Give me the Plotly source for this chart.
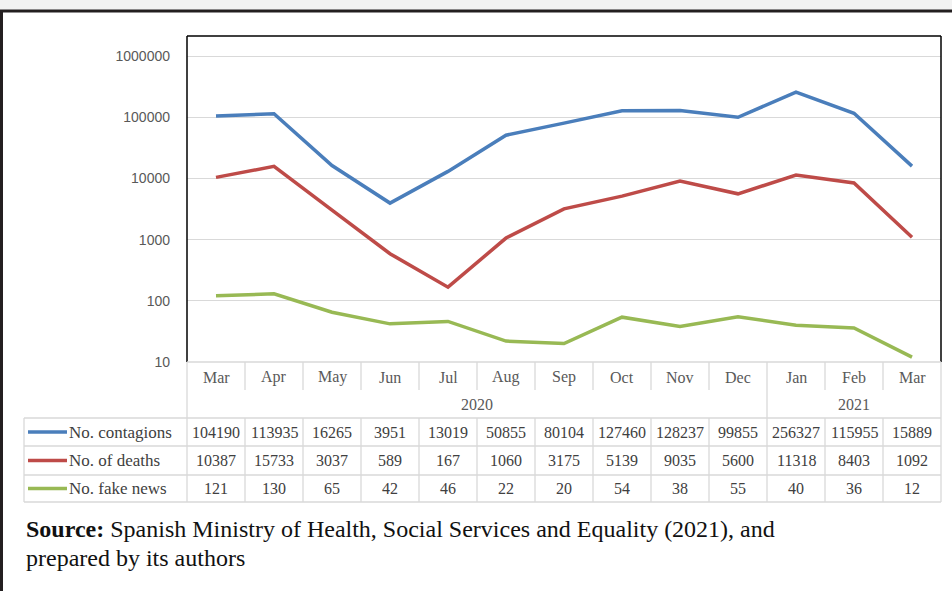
import plotly.graph_objects as go

months = ["Mar", "Apr", "May", "Jun", "Jul", "Aug", "Sep", "Oct", "Nov", "Dec", "Jan", "Feb", "Mar"]
years = ["2020", "2021"]
year_spans = [(0, 9), (10, 12)]
contagions = [104190, 113935, 16265, 3951, 13019, 50855, 80104, 127460, 128237, 99855, 256327, 115955, 15889]
deaths = [10387, 15733, 3037, 589, 167, 1060, 3175, 5139, 9035, 5600, 11318, 8403, 1092]
fake_news = [121, 130, 65, 42, 46, 22, 20, 54, 38, 55, 40, 36, 12]
series_names = ["No. contagions", "No. of deaths", "No. fake news"]
series_values = [contagions, deaths, fake_news]
series_colors = ["#4A7EBB", "#BE4B48", "#98B954"]
y_ticks = [10, 100, 1000, 10000, 100000, 1000000]

W, H = 952, 591
L, R, T, B = 187, 941, 36, 362


def px(x):
    return (x - L) / (R - L)


def py(y):
    return (B - y) / (B - T)


xs = list(range(len(months)))
fig = go.Figure()
for name, vals, col in zip(series_names, series_values, series_colors):
    fig.add_trace(go.Scatter(x=xs, y=vals, mode="lines", name=name,
                             line=dict(color=col, width=3.5), showlegend=False))

shapes = []
annots = []
grey = "#D9D9D9"
txt = "#404040"
font_tab = dict(family="Liberation Serif", size=16, color=txt)

# page decoration
shapes.append(dict(type="rect", xref="paper", yref="paper", x0=px(0), x1=px(W), y0=py(0), y1=py(10),
                   fillcolor="#F2F2F2", line=dict(width=0), layer="below"))
shapes.append(dict(type="line", xref="paper", yref="paper", x0=px(0), x1=px(W), y0=py(11), y1=py(11),
                   line=dict(color="#231F20", width=3)))
shapes.append(dict(type="line", xref="paper", yref="paper", x0=px(1.5), x1=px(1.5), y0=py(10), y1=py(H),
                   line=dict(color="#231F20", width=3)))

# plot frame
for (x0, y0, x1, y1) in [(L, T, R, T), (L, T, L, B), (R, T, R, B)]:
    shapes.append(dict(type="line", xref="paper", yref="paper", x0=px(x0), x1=px(x1), y0=py(y0), y1=py(y1),
                       line=dict(color="#000000", width=1.5)))

# table geometry
data_rows = [(418, 446), (446, 475), (475, 502)]
tab_left = 24

def hline(y, x0, x1):
    shapes.append(dict(type="line", xref="paper", yref="paper", x0=px(x0), x1=px(x1), y0=py(y), y1=py(y),
                       line=dict(color=grey, width=1.3)))

def vline(x, y0, y1):
    shapes.append(dict(type="line", xref="paper", yref="paper", x0=px(x), x1=px(x), y0=py(y0), y1=py(y1),
                       line=dict(color=grey, width=1.3)))

hline(362, L, R)
hline(418, tab_left, R)
hline(446, tab_left, R)
hline(475, tab_left, R)
hline(502, tab_left, R)
vline(tab_left, 418, 502)
vline(L, 362, 502)
vline(R, 362, 502)
colw = (R - L) / len(months)
for i in range(1, len(months)):
    xb = L + i * colw
    if i == year_spans[1][0]:
        vline(xb, 362, 502)
    else:
        vline(xb, 362, 390)
        vline(xb, 418, 502)

for i, m in enumerate(months):
    annots.append(dict(x=i, y=py(377), xref="x", yref="paper", text=m, showarrow=False,
                       font=dict(family="Liberation Serif", size=16, color="#595959"), xanchor="center", yanchor="middle"))
for yr, (a, b) in zip(years, year_spans):
    annots.append(dict(x=(a + b) / 2, y=py(404), xref="x", yref="paper", text=yr, showarrow=False,
                       font=dict(family="Liberation Serif", size=16, color="#595959"), xanchor="center", yanchor="middle"))

for (y0, y1), name, vals, col in zip(data_rows, series_names, series_values, series_colors):
    yc = (y0 + y1) / 2
    shapes.append(dict(type="line", xref="paper", yref="paper", x0=px(28), x1=px(67), y0=py(yc), y1=py(yc),
                       line=dict(color=col, width=3.5)))
    annots.append(dict(x=px(67), y=py(yc), xref="paper", yref="paper", text=name, showarrow=False,
                       font=dict(family="Liberation Serif", size=17, color=txt), xanchor="left", yanchor="middle"))
    for i, v in enumerate(vals):
        annots.append(dict(x=i, y=py(yc), xref="x", yref="paper", text=str(v), showarrow=False,
                           font=font_tab, xanchor="center", yanchor="middle"))

annots.append(dict(x=px(24), y=py(529), xref="paper", yref="paper",
                   text="<b>Source:</b> Spanish Ministry of Health, Social Services and Equality (2021), and",
                   showarrow=False, font=dict(family="Liberation Serif", size=24, color="#111111"),
                   xanchor="left", yanchor="middle"))
annots.append(dict(x=px(24), y=py(558), xref="paper", yref="paper",
                   text="prepared by its authors",
                   showarrow=False, font=dict(family="Liberation Serif", size=24, color="#111111"),
                   xanchor="left", yanchor="middle"))

fig.update_layout(
    width=W, height=H,
    margin=dict(l=L, r=W - R, t=T, b=H - B, pad=0),
    paper_bgcolor="white", plot_bgcolor="white",
    shapes=shapes, annotations=annots,
    xaxis=dict(range=[-0.5, len(months) - 0.5], showticklabels=False, showgrid=False, zeroline=False,
               showline=False, ticks=""),
    yaxis=dict(type="log", range=[1, 6.327], tickvals=y_ticks, ticktext=[str(v) for v in y_ticks],
               showgrid=True, gridcolor=grey, gridwidth=1.3, zeroline=False, showline=False, ticks="",
               ticklabelstandoff=16,
               tickfont=dict(family="Liberation Sans", size=14, color="#595959")),
)

fig.write_html("out.html", config={"displayModeBar": False},
               post_script="document.body.style.margin='0px';document.body.style.overflow='hidden';")
